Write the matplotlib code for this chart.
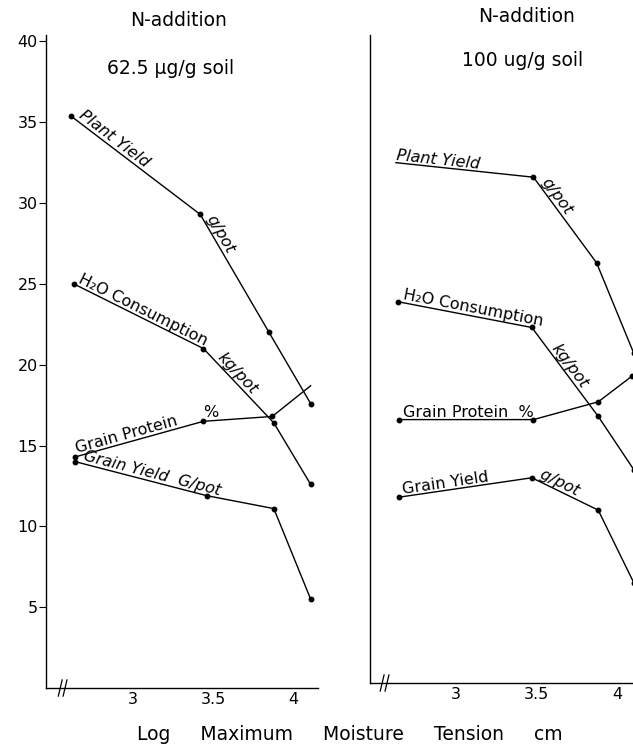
import numpy as np
import matplotlib.pyplot as plt

# left panel: N-addition 62.5 ug/g soil
l_plant_x = [2.61, 3.42, 3.85, 4.11]
l_plant_y = [35.4, 29.3, 22.0, 17.6]
l_h2o_x = [2.63, 3.44, 3.88, 4.11]
l_h2o_y = [25.0, 21.0, 16.4, 12.6]
l_prot_x = [2.64, 3.44, 3.87, 4.11]
l_prot_y = [14.3, 16.5, 16.8, 18.7]
l_gy_x = [2.64, 3.46, 3.88, 4.11]
l_gy_y = [14.0, 11.9, 11.1, 5.5]

# right panel: N-addition 100 ug/g soil
r_plant_x = [2.63, 3.48, 3.87, 4.10]
r_plant_y = [32.2, 31.3, 26.0, 20.4]
r_h2o_x = [2.64, 3.47, 3.88, 4.10]
r_h2o_y = [23.6, 22.0, 16.5, 13.2]
r_prot_x = [2.65, 3.48, 3.88, 4.09]
r_prot_y = [16.3, 16.3, 17.4, 19.0]
r_gy_x = [2.65, 3.47, 3.88, 4.10]
r_gy_y = [11.5, 12.7, 10.7, 6.2]

yticks = [5, 10, 15, 20, 25, 30, 35, 40]
xticks = [3, 3.5, 4]
xticklabels = ['3', '3.5', '4']

W, H = 633, 749
fig = plt.figure(figsize=(W / 100, H / 100), dpi=100)
ax1 = fig.add_axes([46 / W, 61 / H, 272 / W, 653 / H])
ax2 = fig.add_axes([370 / W, 66 / H, 280 / W, 648 / H])

ax1.set_xlim(2.456, 4.156)
ax1.set_ylim(0, 40.4)
ax2.set_xlim(2.47, 4.20)
ax2.set_ylim(0, 40.1)

LBL = 11.5


def draw(ax, xs, ys, dots=None):
    ax.plot(xs, ys, color='black', lw=1.0)
    if dots is None:
        dots = list(range(len(xs)))
    ax.plot([xs[i] for i in dots], [ys[i] for i in dots], 'o', color='black',
            ms=3.2, ls='none')


def seg_label(ax, xs, ys, i, text, t=0.04, size=LBL, style='italic'):
    p0 = ax.transData.transform((xs[i], ys[i]))
    p1 = ax.transData.transform((xs[i + 1], ys[i + 1]))
    ang = np.degrees(np.arctan2(p1[1] - p0[1], p1[0] - p0[0]))
    x = xs[i] + t * (xs[i + 1] - xs[i])
    y = ys[i] + t * (ys[i + 1] - ys[i])
    ax.text(x, y, text, rotation=ang, rotation_mode='anchor', ha='left',
            va='bottom', fontsize=size, style=style)


for ax in (ax1, ax2):
    for s in ('top', 'right'):
        ax.spines[s].set_visible(False)
    ax.spines['left'].set_linewidth(1.0)
    ax.spines['bottom'].set_linewidth(1.0)
    ax.set_xticks(xticks)
    ax.set_xticklabels(xticklabels, fontsize=11.5)
    ax.tick_params(axis='x', length=0, pad=3)
    # axis break marks
    for bx in (2.545, 2.575):
        ax.plot([bx - 0.012, bx + 0.012], [-0.5, 0.5], color='black', lw=0.9,
                clip_on=False)

ax1.set_yticks(yticks)
ax1.set_yticklabels([str(v) for v in yticks], fontsize=11.5)
ax1.tick_params(axis='y', direction='out', length=5, pad=1)
ax2.set_yticks([])

# left panel
draw(ax1, l_plant_x, l_plant_y)
draw(ax1, l_h2o_x, l_h2o_y)
draw(ax1, l_prot_x, l_prot_y, dots=[0, 1, 2])
draw(ax1, l_gy_x, l_gy_y)
seg_label(ax1, l_plant_x, l_plant_y, 0, 'Plant Yield')
seg_label(ax1, l_plant_x, l_plant_y, 1, 'g/pot', t=0.05)
seg_label(ax1, l_h2o_x, l_h2o_y, 0, 'H\u2082O Consumption', t=0.02,
          style='normal')
seg_label(ax1, l_h2o_x, l_h2o_y, 1, 'kg/pot', t=0.15)
seg_label(ax1, l_prot_x, l_prot_y, 0, 'Grain Protein', t=0.02,
          style='normal')
ax1.text(3.44, 16.6, '%', fontsize=LBL, ha='left', va='bottom')
seg_label(ax1, l_gy_x, l_gy_y, 0, 'Grain Yield  G/pot', t=0.05)

# right panel
draw(ax2, r_plant_x, r_plant_y, dots=[1, 2, 3])
draw(ax2, r_h2o_x, r_h2o_y)
draw(ax2, r_prot_x, r_prot_y)
draw(ax2, r_gy_x, r_gy_y)
seg_label(ax2, r_plant_x, r_plant_y, 0, 'Plant Yield', t=0.0)
seg_label(ax2, r_plant_x, r_plant_y, 1, 'g/pot', t=0.08)
seg_label(ax2, r_h2o_x, r_h2o_y, 0, 'H\u2082O Consumption', t=0.03,
          style='normal')
seg_label(ax2, r_h2o_x, r_h2o_y, 1, 'kg/pot', t=0.25)
seg_label(ax2, r_prot_x, r_prot_y, 0, 'Grain Protein  %', t=0.03,
          style='normal')
seg_label(ax2, r_gy_x, r_gy_y, 0, 'Grain Yield', t=0.03, style='normal')
seg_label(ax2, r_gy_x, r_gy_y, 1, ' g/pot', t=0.02)

# titles
fig.text(179 / W, 1 - 20 / H, 'N-addition', ha='center', va='center',
         fontsize=13.5)
fig.text(171 / W, 1 - 68 / H, '62.5 \u03bcg/g soil', ha='center',
         va='center', fontsize=13.5)
fig.text(527 / W, 1 - 16 / H, 'N-addition', ha='center', va='center',
         fontsize=13.5)
fig.text(523 / W, 1 - 60 / H, '100 ug/g soil', ha='center', va='center',
         fontsize=13.5)

fig.text(350 / W, 1 - 735 / H, 'Log     Maximum     Moisture     Tension     cm',
         ha='center', va='center', fontsize=13.5)

fig.savefig('out.png', dpi=100)
